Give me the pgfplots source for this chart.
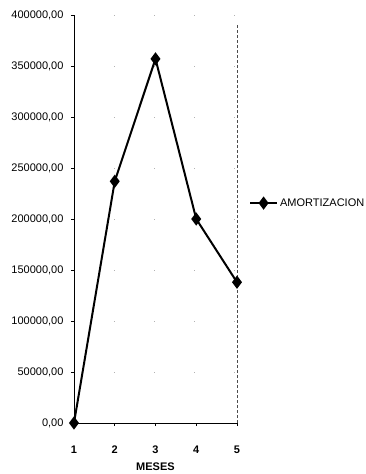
\documentclass[border=0pt]{standalone}
\usepackage{pgfplots}
\pgfplotsset{compat=1.18}
\usepackage{fontspec}
\setmainfont{Liberation Sans}
\begin{document}
\begin{tikzpicture}
\useasboundingbox (0,0) rectangle (365pt,474pt);
\begin{axis}[
  at={(74pt,51pt)}, anchor=south west,
  scale only axis, width=163pt, height=408pt,
  xmin=1, xmax=5, ymin=0, ymax=400000,
  xtick={1,2,3,4,5},
  ytick={0,50000,100000,150000,200000,250000,300000,350000,400000},
  yticklabels={{0,00},{50000,00},{100000,00},{150000,00},{200000,00},{250000,00},{300000,00},{350000,00},{400000,00}},
  scaled y ticks=false,
  axis x line=bottom, axis y line=left,
  axis line style={-, black, line width=0.8pt},
  tick style={black, line width=0.5pt},
  major tick length=3pt,
  xtick align=outside, ytick align=outside,
  ymajorgrids,
  grid style={gray!60, line width=0.7pt, dash pattern=on 1pt off 39pt},
  every tick label/.append style={font=\fontsize{11}{13}\selectfont},
  x tick label style={font=\fontsize{11}{13}\selectfont\bfseries, yshift=-16pt},
  y tick label style={xshift=-4pt},
  /pgf/number format/assume math mode=true,
  xlabel={MESES},
  xlabel style={font=\fontsize{11}{13}\selectfont\bfseries, yshift=-3pt},
  legend style={at={(1.067,0.539)}, anchor=west, draw=none, fill=none,
    font=\fontsize{11}{13}\selectfont, inner sep=1pt},
  legend cell align=left,
  legend image code/.code={
    \draw[mark repeat=2, mark phase=2, #1] plot coordinates {(0pt,0pt) (13.5pt,0pt) (27pt,0pt)};
  },
  clip=false,
]
\addplot[black, line width=2pt, mark=diamond*, mark size=5pt,
  mark options={solid, fill=black}]
  coordinates {(1,0) (2,237000) (3,357000) (4,200000) (5,138000)};
\addlegendentry{AMORTIZACION}
\draw[black!70, line width=0.8pt, densely dashed] (rel axis cs:1,0) -- (rel axis cs:1,0.98);
\end{axis}
\end{tikzpicture}
\end{document}
